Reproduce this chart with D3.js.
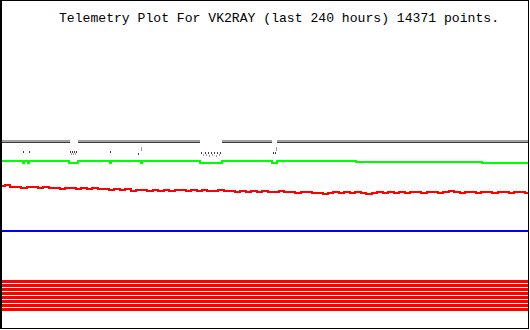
<!DOCTYPE html>
<html>
<head>
<meta charset="utf-8">
<script src="https://cdn.jsdelivr.net/npm/d3@7"></script>
<style>
  body { margin: 0; background: #fff; }
  svg { display: block; }
</style>
</head>
<body>
<div id="chart"></div>
<script>
// chart text
const title = "Telemetry Plot For VK2RAY (last 240 hours) 14371 points.";

// hours of the red channel samples (every 2.5 h)
const redHours = d3.range(0, 240.1, 2.5);
// red analog channel (raw units)
const redValues = [143, 144, 142, 142, 141, 142, 142, 141, 142, 141, 141, 140, 141, 141, 140, 141,
  140, 141, 140, 140, 139, 140, 139, 140, 138, 139, 139, 138, 139, 138, 139, 138, 139, 139, 138,
  139, 138, 139, 138, 138, 139, 138, 138, 137, 138, 137, 138, 137, 138, 137, 137, 138, 137, 137,
  136, 137, 137, 136, 136, 135, 136, 137, 136, 137, 136, 137, 136, 135, 136, 137, 136, 137, 136,
  137, 136, 137, 137, 136, 137, 137, 136, 137, 138, 137, 136, 137, 137, 136, 137, 137, 136, 137,
  137, 136, 137, 137, 136];

// green channel: [hour, value] steps
const greenSteps = [[0, 168], [9.6, 166], [10.1, 168], [11.9, 166], [12.3, 168], [30.6, 166],
  [34.7, 168], [49.3, 166], [49.8, 168], [63.4, 166], [63.9, 168], [90.4, 166], [100.4, 168],
  [123.2, 166], [125.5, 168], [161.5, 167], [219.0, 166], [240, 166]];

// grey channels: [hour, value], null = no data
const greyLight = [[0, 188], [31.0, 188], [31.0, null], [34.7, null], [34.7, 188], [90.4, 188],
  [90.4, null], [100.4, null], [100.4, 188], [123.2, 188], [123.2, null], [125.5, null],
  [125.5, 188], [240, 188]];
const greyDark = [[0, 186.5], [31.0, 186.5], [31.0, null], [34.7, null], [34.7, 186.5],
  [90.4, 186.5], [90.4, null], [100.4, null], [100.4, 186.5], [123.2, 186.5], [123.2, null],
  [125.5, null], [125.5, 186.5], [240, 186.5]];

// low grey readings: [hour, value, dark?]
const greyLow = [[9.6, 177, 1], [12.3, 177, 1], [31.0, 177, 1], [31.9, 177, 1], [32.8, 177, 1],
  [33.7, 177, 1], [31.5, 175, 0], [32.4, 175, 0], [33.3, 175, 0], [49.3, 177, 1], [62.1, 175, 1],
  [63.4, 181, 0], [63.4, 179, 0], [91.0, 176, 1], [92.4, 176, 1], [93.8, 176, 1], [95.2, 176, 1],
  [96.6, 176, 1], [98.0, 176, 1], [99.4, 176, 1], [91.5, 174, 0], [93.0, 174, 0], [94.5, 173, 0],
  [96.0, 174, 0], [97.5, 173, 0], [99.0, 174, 0], [123.6, 176, 1], [124.6, 176, 1],
  [125.2, 181, 0], [125.2, 179, 0]];

// blue channel
const blueHours = [0, 240];
const blueValues = [98, 98];

// digital bits (all set)
const bitLevels = [47.5, 43.5, 39.5, 35.5, 31.5, 27.5, 23.5, 19.5];

const width = 530, height = 330;

const svg = d3.select("#chart")
  .append("svg")
  .attr("width", width)
  .attr("height", height);

const x = d3.scaleLinear().domain([0, 240]).range([2, 528]);
const y = d3.scaleLinear().domain([0, 328]).range([329, 1]);

// frame
svg.append("rect")
  .attr("x", 0.5).attr("y", 0.5)
  .attr("width", 528).attr("height", 328)
  .attr("fill", "#fff")
  .attr("stroke", "#000")
  .attr("stroke-width", 1);
svg.append("line")
  .attr("x1", 1.5).attr("x2", 1.5).attr("y1", 0).attr("y2", 329)
  .attr("stroke", "#000");

svg.append("text")
  .attr("x", 59)
  .attr("y", 22)
  .attr("font-family", "Liberation Mono, monospace")
  .attr("font-size", 13)
  .attr("textLength", 440)
  .attr("lengthAdjust", "spacingAndGlyphs")
  .attr("fill", "#000")
  .text(title);

const plot = svg.append("g").attr("shape-rendering", "crispEdges");

// digital bits
plot.selectAll(".bit")
  .data(bitLevels)
  .join("line")
    .attr("x1", x(0)).attr("x2", x(240))
    .attr("y1", d => y(d)).attr("y2", d => y(d))
    .attr("stroke", "#ff0000")
    .attr("stroke-width", 3);

// blue
plot.append("path")
  .datum(blueHours.map((h, i) => [h, blueValues[i]]))
  .attr("fill", "none")
  .attr("stroke", "#0000ff")
  .attr("stroke-width", 2)
  .attr("d", d3.line().x(d => x(d[0])).y(d => y(d[1])));

// red analog
plot.append("path")
  .datum(redHours.map((h, i) => [h, redValues[i]]))
  .attr("fill", "none")
  .attr("stroke", "#ff0000")
  .attr("stroke-width", 2)
  .attr("d", d3.line().curve(d3.curveStep).x(d => x(d[0])).y(d => y(d[1])));

// green
plot.append("path")
  .datum(greenSteps)
  .attr("fill", "none")
  .attr("stroke", "#00ff00")
  .attr("stroke-width", 2)
  .attr("d", d3.line().curve(d3.curveStepAfter).x(d => x(d[0])).y(d => y(d[1])));

// grey
const greyLine = d3.line()
  .defined(d => d[1] !== null)
  .x(d => x(d[0])).y(d => y(d[1]));
plot.append("path")
  .datum(greyLight)
  .attr("fill", "none")
  .attr("stroke", "#a0a0a0")
  .attr("stroke-width", 2)
  .attr("d", greyLine);
plot.append("path")
  .datum(greyDark)
  .attr("fill", "none")
  .attr("stroke", "#404040")
  .attr("stroke-width", 1)
  .attr("d", greyLine);

plot.selectAll(".low")
  .data(greyLow)
  .join("rect")
    .attr("x", d => Math.round(x(d[0])))
    .attr("y", d => Math.round(y(d[1])) - 1)
    .attr("width", 1)
    .attr("height", 2)
    .attr("fill", d => d[2] ? "#404040" : "#a0a0a0");
</script>
</body>
</html>
